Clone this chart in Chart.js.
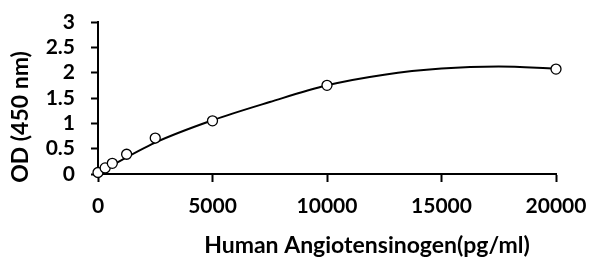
<!DOCTYPE html>
<html>
<head>
<meta charset="utf-8">
<script src="https://cdn.jsdelivr.net/npm/chart.js@4.4.0/dist/chart.umd.min.js"></script>
<style>
  html, body { margin: 0; padding: 0; background: #fff; }
</style>
</head>
<body>
<canvas id="odChart" width="591" height="264"></canvas>
<script>
// standard curve points (pg/ml vs OD)
const concentrations = [0, 312.5, 625, 1250, 2500, 5000, 10000, 20000];
const odValues = [0.03, 0.12, 0.21, 0.39, 0.71, 1.05, 1.75, 2.07];

// fitted trend line
const fitConc = [0, 2500, 5000, 7500, 10000, 12500, 15000, 17500, 20000];
const fitOd = [0.02, 0.62, 1.06, 1.42, 1.75, 1.96, 2.08, 2.12, 2.08];

// axis ticks and titles
const xTicks = [0, 5000, 10000, 15000, 20000];
const yTicks = [0, 0.5, 1, 1.5, 2, 2.5, 3];
const xTitle = 'Human Angiotensinogen(pg/ml)';
const yTitle = 'OD (450 nm)';

const tickFont = { family: 'Lato', size: 21, weight: 'bold' };

// axis titles sit off-centre in the original, so draw them here
const axisTitles = {
    id: 'axisTitles',
    afterDraw(chart) {
        const ctx = chart.ctx;
        const area = chart.chartArea;
        ctx.save();
        ctx.fillStyle = '#000';
        ctx.font = 'bold 23px Lato';
        ctx.textAlign = 'center';
        ctx.textBaseline = 'middle';
        ctx.fillText(xTitle, (area.left + area.right) / 2 + 40, 246);
        ctx.translate(21, (area.top + area.bottom) / 2 + 19);
        ctx.rotate(-Math.PI / 2);
        ctx.fillText(yTitle, 0, 0);
        ctx.restore();
    }
};

new Chart(document.getElementById('odChart'), {
    type: 'scatter',
    data: {
        datasets: [{
            label: 'Standards',
            data: concentrations.map((c, i) => ({ x: c, y: odValues[i] })),
            pointRadius: 5,
            pointBorderWidth: 1.3,
            pointBorderColor: '#000',
            pointBackgroundColor: '#fff',
            showLine: false,
            clip: false,
            order: 0
        }, {
            type: 'line',
            label: 'Fit',
            data: fitConc.map((c, i) => ({ x: c, y: fitOd[i] })),
            borderColor: '#000',
            borderWidth: 2,
            pointRadius: 0,
            cubicInterpolationMode: 'monotone',
            fill: false,
            order: 1
        }]
    },
    options: {
        responsive: false,
        animation: false,
        devicePixelRatio: 1,
        layout: { padding: { top: 22, right: 35, left: 0, bottom: 0 } },
        plugins: {
            legend: { display: false },
            tooltip: { enabled: false }
        },
        scales: {
            x: {
                type: 'linear',
                min: 0,
                max: 20000,
                afterBuildTicks: scale => { scale.ticks = xTicks.map(v => ({ value: v })); },
                afterFit: scale => {
                    scale.height = 90;
                    scale.paddingLeft = 0;
                    scale.paddingRight = 0;
                },
                ticks: {
                    font: tickFont,
                    color: '#000',
                    padding: 12,
                    maxRotation: 0,
                    autoSkip: false,
                    callback: v => String(v)
                },
                grid: {
                    drawOnChartArea: false,
                    drawTicks: true,
                    tickLength: 8,
                    tickWidth: 2,
                    tickColor: '#000'
                },
                border: { display: true, color: '#000', width: 2 }
            },
            y: {
                min: 0,
                max: 3,
                afterBuildTicks: scale => { scale.ticks = yTicks.map(v => ({ value: v })); },
                afterFit: scale => {
                    scale.width = 98;
                    scale.paddingTop = 0;
                    scale.paddingBottom = 0;
                },
                ticks: {
                    font: tickFont,
                    color: '#000',
                    padding: 16,
                    autoSkip: false,
                    callback: v => String(v)
                },
                grid: {
                    drawOnChartArea: false,
                    drawTicks: true,
                    tickLength: 7,
                    tickWidth: 2,
                    tickColor: '#000'
                },
                border: { display: true, color: '#000', width: 2 }
            }
        }
    },
    plugins: [axisTitles]
});
</script>
</body>
</html>
